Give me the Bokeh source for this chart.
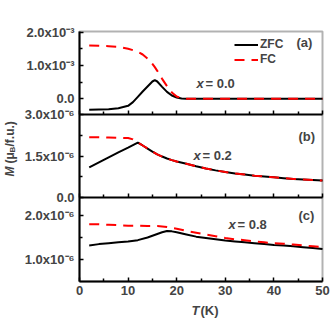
from math import pi
from bokeh.plotting import figure
from bokeh.models import (Range1d, LinearAxis, FixedTicker, Label, Legend,
                          LegendItem, BoxAnnotation)
from bokeh.embed import file_html
from bokeh.resources import INLINE

# ---------------- data ----------------
# panel (a): x = 0.0  (M in mu_B/f.u.)
T_a = [2, 4, 6, 8, 10, 11, 12, 13, 14, 15, 15.5, 16, 17, 18, 19, 20, 21, 22,
       25, 30, 35, 40, 45, 50]
zfc_a = [-0.33e-3, -0.32e-3, -0.31e-3, -0.28e-3, -0.21e-3, -0.10e-3, 0.06e-3,
         0.22e-3, 0.37e-3, 0.52e-3, 0.56e-3, 0.52e-3, 0.36e-3, 0.21e-3,
         0.10e-3, 0.04e-3, 0.01e-3, 0.0, 0.0, 0.0, 0.0, 0.0, 0.0, 0.0]
fc_a = [1.60e-3, 1.59e-3, 1.58e-3, 1.56e-3, 1.50e-3, 1.46e-3, 1.41e-3,
        1.33e-3, 1.21e-3, 1.05e-3, 0.95e-3, 0.84e-3, 0.60e-3, 0.38e-3,
        0.19e-3, 0.07e-3, 0.02e-3, 0.0, 0.0, 0.0, 0.0, 0.0, 0.0, 0.0]

# panel (b): x = 0.2
T_b = [2, 4, 6, 8, 10, 11, 12, 13, 14, 15, 16, 17, 18, 19, 20, 22, 24, 26,
       28, 30, 32, 34, 36, 38, 40, 42, 44, 46, 48, 50]
zfc_b = [1.09e-6, 1.27e-6, 1.45e-6, 1.63e-6, 1.80e-6, 1.89e-6, 1.98e-6,
         1.88e-6, 1.77e-6, 1.66e-6, 1.56e-6, 1.48e-6, 1.41e-6, 1.35e-6,
         1.30e-6, 1.22e-6, 1.13e-6, 1.05e-6, 0.98e-6, 0.92e-6, 0.87e-6,
         0.83e-6, 0.79e-6, 0.76e-6, 0.73e-6, 0.70e-6, 0.67e-6, 0.65e-6,
         0.63e-6, 0.61e-6]
fc_b = [2.18e-6, 2.18e-6, 2.17e-6, 2.16e-6, 2.15e-6, 2.10e-6, 1.99e-6,
        1.88e-6, 1.77e-6, 1.66e-6, 1.56e-6, 1.48e-6, 1.41e-6, 1.35e-6,
        1.30e-6, 1.22e-6, 1.13e-6, 1.05e-6, 0.98e-6, 0.92e-6, 0.87e-6,
        0.83e-6, 0.79e-6, 0.76e-6, 0.73e-6, 0.70e-6, 0.67e-6, 0.65e-6,
        0.63e-6, 0.61e-6]

# panel (c): x = 0.8
T_c = [2, 4, 6, 8, 10, 12, 14, 15, 16, 17, 18, 19, 20, 22, 24, 26, 28, 30,
       32, 34, 36, 38, 40, 42, 44, 46, 48, 50]
zfc_c = [1.32e-6, 1.35e-6, 1.37e-6, 1.39e-6, 1.41e-6, 1.44e-6, 1.50e-6,
         1.54e-6, 1.58e-6, 1.62e-6, 1.65e-6, 1.64e-6, 1.62e-6, 1.57e-6,
         1.52e-6, 1.49e-6, 1.46e-6, 1.43e-6, 1.41e-6, 1.39e-6, 1.37e-6,
         1.35e-6, 1.33e-6, 1.32e-6, 1.30e-6, 1.28e-6, 1.26e-6, 1.24e-6]
fc_c = [1.80e-6, 1.80e-6, 1.79e-6, 1.78e-6, 1.77e-6, 1.77e-6, 1.76e-6,
        1.76e-6, 1.76e-6, 1.75e-6, 1.74e-6, 1.72e-6, 1.70e-6, 1.65e-6,
        1.61e-6, 1.57e-6, 1.53e-6, 1.49e-6, 1.46e-6, 1.44e-6, 1.41e-6,
        1.39e-6, 1.37e-6, 1.36e-6, 1.34e-6, 1.32e-6, 1.30e-6, 1.28e-6]

# axis ranges and ticks
X_RANGE = (0, 50)
x_major = [0, 10, 20, 30, 40, 50]
x_minor = [5, 15, 25, 35, 45]

A_RANGE = (-0.47e-3, 2.02e-3)
a_major = [0.0, 1.0e-3, 2.0e-3]
a_labels = ["0.0", "1.0x10\u207b\u00b3", "2.0x10\u207b\u00b3"]
a_minor = [0.5e-3, 1.5e-3]

B_RANGE = (0.0, 3.0e-6)
b_major = [0.0, 1.5e-6, 3.0e-6]
b_labels = ["0.0", "1.5x10\u207b\u2076", "3.0x10\u207b\u2076"]
b_minor = [0.75e-6, 2.25e-6]

C_RANGE = (0.5e-6, 2.41e-6)
c_major = [1.0e-6, 2.0e-6]
c_labels = ["1.0x10\u207b\u2076", "2.0x10\u207b\u2076"]
c_minor = [1.5e-6]

# ---------------- layout ----------------
FONT = "Liberation Sans"
RED = "#ff0000"
OFF = 0                      # page offset of the canvas
W, H = 330, 325              # canvas size
FRAME_L, FRAME_R = 79, 322   # page px of plot box
FRAME_T, FRAME_B = 31, 281
PANEL_H = {"c": (0, 84), "b": (84, 167), "a": (167, 250)}
MAIN_H = FRAME_B - FRAME_T


def X(px):
    """page px -> T units"""
    return X_RANGE[0] + (px - FRAME_L) * (X_RANGE[1] - X_RANGE[0]) / (FRAME_R - FRAME_L)


def Y(py):
    """page px -> stacked-panel units"""
    return FRAME_B - py


# the plotting frame fills the whole canvas; the panel box is drawn inside
p = figure(width=W, height=H, output_backend="svg", toolbar_location=None,
           x_range=Range1d(X(OFF), X(OFF + W)),
           y_range=Range1d(Y(OFF + H), Y(OFF)),
           x_axis_location=None, y_axis_location=None, min_border=0)
p.grid.visible = False
p.outline_line_color = None
p.background_fill_color = "white"
p.border_fill_color = "white"


def panel_range(rng, span):
    lo, hi = rng
    y0, y1 = span
    s = (hi - lo) / (y1 - y0)
    return Range1d(lo - (y0 - Y(OFF + H)) * s, hi + (Y(OFF) - y1) * s)


def to_main(v, rng, span):
    lo, hi = rng
    y0, y1 = span
    return round(y0 + (v - lo) / (hi - lo) * (y1 - y0), 3)


p.extra_y_ranges = {"a": panel_range(A_RANGE, PANEL_H["a"]),
                    "b": panel_range(B_RANGE, PANEL_H["b"]),
                    "c": panel_range(C_RANGE, PANEL_H["c"])}

# y ticks of the three panels on one left axis
yt, ym, yo = [], [], {}
for key, rng, maj, lab_, mnr in [("a", A_RANGE, a_major, a_labels, a_minor),
                                 ("b", B_RANGE, b_major, b_labels, b_minor),
                                 ("c", C_RANGE, c_major, c_labels, c_minor)]:
    for v, t in zip(maj, lab_):
        pos = to_main(v, rng, PANEL_H[key])
        yt.append(pos)
        yo[pos] = t
    for v in mnr:
        ym.append(to_main(v, rng, PANEL_H[key]))

common = dict(major_tick_in=4, major_tick_out=0, minor_tick_in=3,
              minor_tick_out=0, axis_line_width=2, major_tick_line_width=1.5,
              minor_tick_line_width=1.5, major_label_text_font=FONT,
              major_label_text_font_style="bold",
              major_label_text_font_size="13px")

yax = LinearAxis(fixed_location=X_RANGE[0], bounds=(0, MAIN_H),
                 ticker=FixedTicker(ticks=yt, minor_ticks=ym),
                 major_label_overrides=yo, major_label_standoff=5, **common)
p.add_layout(yax, "left")

xax = LinearAxis(fixed_location=0, bounds=X_RANGE,
                 ticker=FixedTicker(ticks=x_major, minor_ticks=x_minor),
                 major_label_standoff=4, **common)
p.add_layout(xax, "below")

# panel separators with inward ticks (no labels)
for key in ("c", "b"):
    ax = LinearAxis(fixed_location=PANEL_H[key][1], bounds=X_RANGE,
                    ticker=FixedTicker(ticks=x_major, minor_ticks=x_minor),
                    major_label_standoff=0, **common)
    ax.major_label_text_color = None
    p.add_layout(ax, "below")

# right and top edges of the box
p.add_layout(BoxAnnotation(left=X_RANGE[0], right=X_RANGE[1], bottom=0,
                           top=MAIN_H, fill_alpha=0, line_color="black",
                           line_width=2))

# ---------------- curves ----------------
LW = 2
DASH = "10 7"
r_zfc_a = p.line(T_a, zfc_a, y_range_name="a", color="black", line_width=LW)
r_fc_a = p.line(T_a, fc_a, y_range_name="a", color=RED, line_width=LW,
                line_dash=DASH)
p.line(T_b, zfc_b, y_range_name="b", color="black", line_width=LW)
p.line(T_b, fc_b, y_range_name="b", color=RED, line_width=LW, line_dash=DASH)
p.line(T_c, zfc_c, y_range_name="c", color="black", line_width=LW)
p.line(T_c, fc_c, y_range_name="c", color=RED, line_width=LW, line_dash=DASH)

legend = Legend(items=[LegendItem(label="ZFC", renderers=[r_zfc_a]),
                       LegendItem(label="FC", renderers=[r_fc_a])],
                location=(234 - OFF, OFF + H - 66.5), padding=0, margin=0,
                spacing=0, glyph_width=24, glyph_height=15, label_height=15,
                label_standoff=2, label_text_font=FONT,
                label_text_font_style="bold", label_text_font_size="12px",
                border_line_color=None, background_fill_alpha=0)
p.add_layout(legend, "center")


# ---------------- annotations ----------------
def lab(text, px, py, size="13px", style="bold", angle=0, xo=0):
    p.add_layout(Label(x=X(px), y=Y(py), text=text, text_font=FONT,
                       text_font_style=style, text_font_size=size,
                       text_baseline="middle", text_align="left",
                       angle=angle, x_offset=xo))


lab("(a)", 296, 42)
lab("(b)", 298, 136)
lab("(c)", 298, 215)

lab("x", 196, 83, style="bold italic")
lab("= 0.0", 205, 83)
lab("x", 193, 155, style="bold italic")
lab("= 0.2", 202, 155)
lab("x", 228, 224, style="bold italic")
lab("= 0.8", 237, 224)

lab("T", 191, 310, style="bold italic")
lab("(K)", 200, 310)

# y axis title, rotated
lab("M", 9, 176, "12px", "bold italic", angle=pi / 2)
lab("(\u03bc", 9, 163, "12px", angle=pi / 2)
lab("B", 9, 152, "8px", angle=pi / 2, xo=3)
lab("/f.u.)", 9, 146, "12px", angle=pi / 2)

open("out.html", "w").write(file_html(p, INLINE))
